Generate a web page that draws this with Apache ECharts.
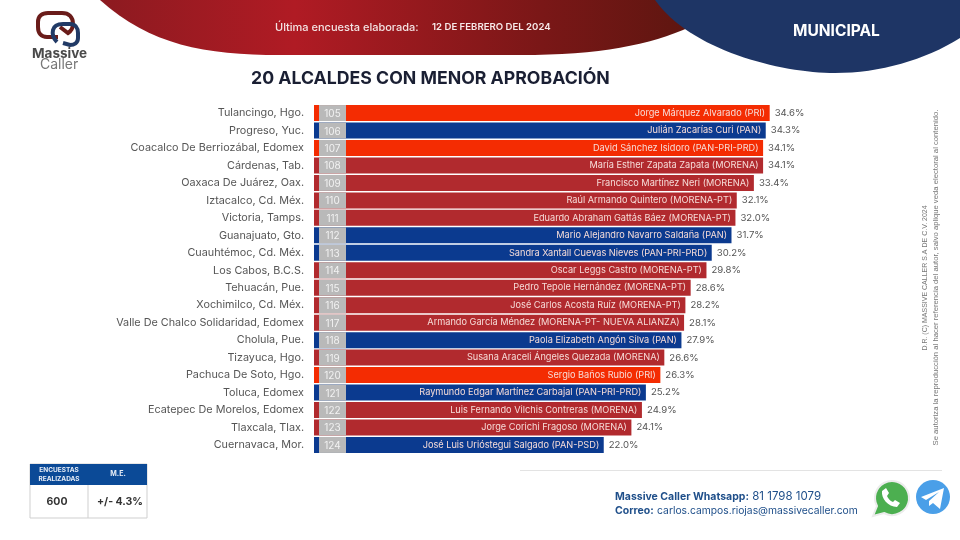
<!DOCTYPE html>
<html><head><meta charset="utf-8">
<style>html,body{margin:0;padding:0;background:#fff}#c{width:960px;height:540px}</style>
<script src="https://cdn.jsdelivr.net/npm/echarts@6/dist/echarts.min.js"></script>
</head><body><div id="c"></div>
<script>
const cities=["Tulancingo, Hgo.","Progreso, Yuc.","Coacalco De Berriozábal, Edomex","Cárdenas, Tab.","Oaxaca De Juárez, Oax.","Iztacalco, Cd. Méx.","Victoria, Tamps.","Guanajuato, Gto.","Cuauhtémoc, Cd. Méx.","Los Cabos, B.C.S.","Tehuacán, Pue.","Xochimilco, Cd. Méx.","Valle De Chalco Solidaridad, Edomex","Cholula, Pue.","Tizayuca, Hgo.","Pachuca De Soto, Hgo.","Toluca, Edomex","Ecatepec De Morelos, Edomex","Tlaxcala, Tlax.","Cuernavaca, Mor."];
const ranks=[105,106,107,108,109,110,111,112,113,114,115,116,117,118,119,120,121,122,123,124];
const names=["Jorge Márquez Alvarado (PRI)","Julián Zacarías Curi (PAN)","David Sánchez Isidoro (PAN-PRI-PRD)","María Esther Zapata Zapata (MORENA)","Francisco Martínez Neri (MORENA)","Raúl Armando Quintero (MORENA-PT)","Eduardo Abraham Gattás Báez (MORENA-PT)","Mario Alejandro Navarro Saldaña (PAN)","Sandra Xantall Cuevas Nieves (PAN-PRI-PRD)","Oscar Leggs Castro (MORENA-PT)","Pedro Tepole Hernández (MORENA-PT)","José Carlos Acosta Ruíz (MORENA-PT)","Armando García Méndez (MORENA-PT- NUEVA ALIANZA)","Paola Elizabeth Angón Silva (PAN)","Susana Araceli Ángeles Quezada (MORENA)","Sergio Baños Rubio (PRI)","Raymundo Edgar Martínez Carbajal (PAN-PRI-PRD)","Luis Fernando Vilchis Contreras (MORENA)","Jorge Corichi Fragoso (MORENA)","José Luis Urióstegui Salgado (PAN-PSD)"];
const approval=[34.6,34.3,34.1,34.1,33.4,32.1,32.0,31.7,30.2,29.8,28.6,28.2,28.1,27.9,26.6,26.3,25.2,24.9,24.1,22.0];
const blocs=["R","P","R","M","M","M","M","P","P","M","M","M","M","P","M","R","P","M","M","P"];
const blocColors={R:"#f42c02",P:"#0b3a8f",M:"#b12a2e"};
const FONT='Inter, "Open Sans", sans-serif';
const shapes={
 redBand:'M100 0C150 45 205 55 280 55L520 55C600 55 650 45 690 27L656 0Z',
 navyBand:'M655 0C690 50 780 73 835 73C880 73 925 60 960 38L960 0Z',
 waBubble:'M873 516L877 506A17 17 0 1 1 884 513Z',
 waPhone:'M882 491C881 498 888 507 897 507L900 503L895 500L893 502C890 501 888 498 887 496L889 493L886 488Z',
 tgPlane:'M921 497L944 488L940 509L933 503L929 506L929 501L939 492L926 500Z',
 logoRed:'M58 37L47 37C41 37 38 33 38 27L38 22C38 16 42 13 48 13L62 13C69 13 73 17 73 24C73 28 71 31 68 33L60 27',
 logoBlue:'M57 42C53 38 52 34 53 30C54 26 58 24 63 24L70 24C75 24 78 28 78 33L78 38C78 43 74 45 70 45L63 43'
};
Object.keys(shapes).forEach(k=>echarts.graphic.registerShape(k,echarts.graphic.extendPath(shapes[k],{})));
const chart=echarts.init(document.getElementById('c'),null,{renderer:'canvas'});
const gfx=[
 {type:'redBand',z:0,style:{fill:new echarts.graphic.LinearGradient(0,0,1,0,[{offset:0,color:'#8c1a20'},{offset:.33,color:'#b01b24'},{offset:.75,color:'#7a1717'},{offset:1,color:'#5e1610'}])}},
 {type:'navyBand',z:1,style:{fill:'#1e3565'}},
 {type:'text',z:3,left:275,top:22,style:{text:'Última encuesta elaborada:',font:'500 11px '+FONT,fill:'#f3e3e3'}},
 {type:'text',z:3,left:432,top:22,style:{text:'12 DE FEBRERO DEL 2024',font:'600 9.6px '+FONT,fill:'#f7e9e9'}},
 {type:'text',z:3,left:793,top:23,style:{text:'MUNICIPAL',font:'700 15.5px '+FONT,fill:'#fff'}},
 {type:'text',z:3,left:251,top:70,style:{text:'20 ALCALDES CON MENOR APROBACIÓN',font:'700 17.7px '+FONT,fill:'#1a1f33'}},
 {type:'logoRed',z:3,style:{fill:'none',stroke:'#6a1c1a',lineWidth:4}},
 {type:'logoBlue',z:4,style:{fill:'none',stroke:'#213a66',lineWidth:4}},
 {type:'text',z:3,left:32,top:47,style:{text:'Massive',font:'700 13.5px '+FONT,fill:'#4a4a4a'}},
 {type:'text',z:3,left:40,top:58,style:{text:'Caller',font:'400 14px '+FONT,fill:'#777'}},
 {type:'rect',z:3,shape:{x:30,y:464,width:117,height:54},style:{fill:'#fff',stroke:'#cfcfcf',lineWidth:1}},
 {type:'rect',z:3,shape:{x:30,y:464,width:117,height:21},style:{fill:'#0b4a97'}},
 {type:'line',z:3,shape:{x1:88,y1:485,x2:88,y2:518},style:{stroke:'#cfcfcf',lineWidth:1}},
 {type:'text',z:4,x:59,y:474.5,style:{text:'ENCUESTAS\nREALIZADAS',font:'700 6.5px '+FONT,lineHeight:9,fill:'#e8eef7',align:'center',verticalAlign:'middle'}},
 {type:'text',z:4,x:118,y:474,style:{text:'M.E.',font:'700 7px '+FONT,fill:'#e8eef7',align:'center',verticalAlign:'middle'}},
 {type:'text',z:4,x:57,y:502,style:{text:'600',font:'700 10.5px '+FONT,fill:'#333',align:'center',verticalAlign:'middle'}},
 {type:'text',z:4,x:120,y:502,style:{text:'+/- 4.3%',font:'700 10.5px '+FONT,fill:'#333',align:'center',verticalAlign:'middle'}},
 {type:'line',z:3,shape:{x1:520,y1:470.5,x2:942,y2:470.5},style:{stroke:'#e3e3e3',lineWidth:1}},
 {type:'text',z:3,left:615,top:491,style:{rich:{b:{font:'700 10.5px '+FONT,fill:'#1f4f8a'},n:{font:'400 11.5px '+FONT,fill:'#1f4f8a'}},text:'{b|Massive Caller Whatsapp:} {n|81 1798 1079}'}},
 {type:'text',z:3,left:615,top:505,style:{rich:{b:{font:'700 10.5px '+FONT,fill:'#1f4f8a'},n:{font:'400 10.3px '+FONT,fill:'#1f4f8a'}},text:'{b|Correo:} {n|carlos.campos.riojas@massivecaller.com}'}},
 {type:'waBubble',z:3,style:{fill:'#4caf50',stroke:'#ececec',lineWidth:2}},
 {type:'waPhone',z:4,style:{fill:'#fff'}},
 {type:'circle',z:3,shape:{cx:933,cy:497,r:17},style:{fill:'#4a9fe8'}},
 {type:'tgPlane',z:4,style:{fill:'#fff'}},
 {type:'text',z:3,x:925,y:278,rotation:Math.PI/2,style:{text:'D.R. (C) MASSIVE CALLER S.A DE C.V. 2024',font:'400 7px "Liberation Sans", sans-serif',fill:'#777',align:'center',verticalAlign:'middle'}},
 {type:'text',z:3,x:935.5,y:277.5,rotation:Math.PI/2,style:{text:'Se autoriza la reproducción al hacer referencia del autor, salvo aplique veda electoral al contenido.',font:'400 7.7px "Liberation Sans", sans-serif',fill:'#777',align:'center',verticalAlign:'middle'}}
];
chart.setOption({
 animation:false,
 backgroundColor:'#fff',
 graphic:{elements:gfx},
 grid:{left:314,top:104.3,width:526.8,height:349.4,containLabel:false},
 xAxis:{type:'value',min:0,max:40,show:false},
 yAxis:{type:'category',inverse:true,data:cities,axisLine:{show:false},axisTick:{show:false},splitLine:{show:false},
  axisLabel:{margin:10,fontFamily:FONT,fontSize:10.8,color:'#555',padding:[2,0,0,0]}},
 series:[
  {type:'bar',z:2,barWidth:16,barGap:'-100%',silent:true,
   data:approval.map((v,i)=>({value:v,name:names[i],itemStyle:{color:blocColors[blocs[i]]}})),
   label:{show:true,position:'insideRight',distance:4.5,padding:[1,0,0,0],fontFamily:FONT,fontSize:9.2,color:'#f6dcd8',formatter:p=>names[p.dataIndex]}},
  {type:'bar',z:3,barWidth:16,barGap:'-100%',silent:true,data:approval,itemStyle:{color:'rgba(0,0,0,0)'},
   label:{show:true,position:'right',distance:5,padding:[2,0,0,0],fontFamily:FONT,fontSize:9.6,color:'#555',formatter:p=>p.value.toFixed(1)+'%'}},
  {type:'custom',z:4,silent:true,data:ranks.map((r,i)=>[i,r]),
   encode:{y:0},
   renderItem:(params,api)=>{
    const idx=api.value(0), p=api.coord([0,idx]);
    const x=p[0]+5,y=p[1]-8;
    return {type:'group',children:[
     {type:'rect',shape:{x,y,width:27,height:16},style:{fill:'#b9b9b9'}},
     {type:'text',style:{x:x+13.5,y:p[1]+1,text:String(api.value(1)),align:'center',verticalAlign:'middle',font:'400 10px '+FONT,fill:'#f2f2f2'}}
    ]};
   }}
 ]
});
</script></body></html>
